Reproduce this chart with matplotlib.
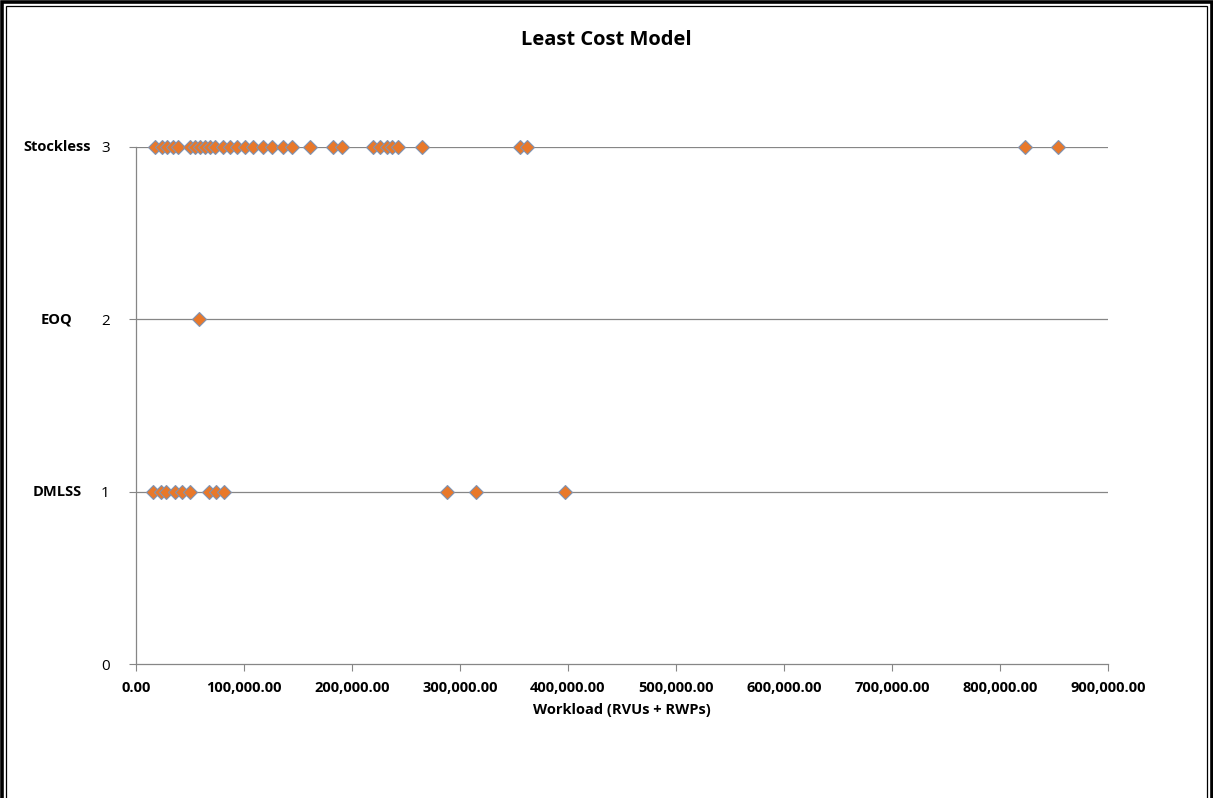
import matplotlib
matplotlib.use("Agg")
import matplotlib.pyplot as plt
from matplotlib.patches import Rectangle

# Workload values (RVUs + RWPs) for each facility, grouped by least-cost model
stockless_workload = [17600, 24100, 28700, 34300, 38900, 50000, 54600, 59300, 63900,
                      68500, 73100, 80600, 87000, 93500, 100900, 108300, 117600, 125900,
                      136100, 144400, 161100, 182400, 190700, 219400, 225900, 232400,
                      237000, 242600, 264800, 355600, 362000, 823100, 853700]
eoq_workload = [58700]
dmlss_workload = [15700, 23100, 27800, 36100, 42600, 50000, 67600, 74100, 81500,
                  287900, 314800, 397200]

model_codes = [1, 2, 3]
model_names = ["DMLSS", "EOQ", "Stockless"]
x_ticks = list(range(0, 900001, 100000))

title_font = ["Open Sans", "DejaVu Sans"]
label_font = ["Open Sans", "DejaVu Sans"]

fig = plt.figure(figsize=(12.13, 7.98), dpi=100)
ax = fig.add_axes([136 / 1213, 1 - 664 / 798, (1108 - 136) / 1213, (664 - 147) / 798])

grid_col = "#868686"
for y in model_codes:
    ax.axhline(y, color=grid_col, lw=0.9, zorder=1)

marker_kw = dict(marker="D", linestyle="none", markersize=7,
                 markerfacecolor="#E8782A", markeredgecolor="#7F93B3",
                 markeredgewidth=0.8, zorder=3, clip_on=False)
ax.plot(stockless_workload, [3] * len(stockless_workload), **marker_kw)
ax.plot(eoq_workload, [2] * len(eoq_workload), **marker_kw)
ax.plot(dmlss_workload, [1] * len(dmlss_workload), **marker_kw)

ax.set_xlim(0, 900000)
ax.set_ylim(0, 3)
ax.set_xticks(x_ticks)
ax.set_xticklabels([f"{v:,.2f}" for v in x_ticks], fontsize=10.5,
                   fontweight="bold", family=label_font)
ax.set_yticks([0, 1, 2, 3])
ax.set_yticklabels(["0", "1", "2", "3"], fontsize=11, family=label_font)

for side in ("top", "right"):
    ax.spines[side].set_visible(False)
for side in ("left", "bottom"):
    ax.spines[side].set_color(grid_col)
    ax.spines[side].set_linewidth(0.9)
ax.tick_params(axis="x", length=5, color=grid_col, pad=7)
ax.tick_params(axis="y", length=5, color=grid_col, pad=14)

ax.set_xlabel("Workload (RVUs + RWPs)", fontsize=10.5, fontweight="bold",
              family=label_font, labelpad=6)

# category names beside the numeric codes
for code, name in zip(model_codes, model_names):
    fig.text(57 / 1213, ax.transData.transform((0, code))[1] / fig.bbox.height,
             name, ha="center", va="center", fontsize=10.5, fontweight="bold",
             family=label_font)

fig.text(0.5, 1 - 40 / 798, "Least Cost Model", ha="center", va="center",
         fontsize=14.5, fontweight="bold", family=title_font)

# double frame around the chart
fig.patches.append(Rectangle((1.5 / 1213, -0.02), 1 - 3 / 1213, 1.02 - 1.5 / 798,
                             transform=fig.transFigure, fill=False,
                             edgecolor="black", lw=2.6))
fig.patches.append(Rectangle((6 / 1213, -0.02), 1 - 12 / 1213, 1.02 - 6 / 798,
                             transform=fig.transFigure, fill=False,
                             edgecolor="black", lw=0.9))

fig.savefig("out.png", dpi=100)
